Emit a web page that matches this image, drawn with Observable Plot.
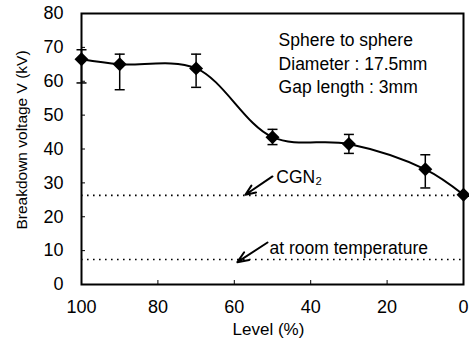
<!DOCTYPE html>
<html><head><meta charset="utf-8">
<script src="https://cdn.jsdelivr.net/npm/d3@7"></script>
<script src="https://cdn.jsdelivr.net/npm/@observablehq/plot@0.6"></script>
<style>body{margin:0;background:#fff}#chart svg{display:block}</style>
</head><body><div id="chart"></div>
<script>
// Data
const levels  = [100, 90, 70, 50, 30, 10, 0];
const voltage = [66.5, 65.0, 63.8, 43.5, 41.5, 34.0, 26.5];
const errHigh = [69.3, 68.0, 68.0, 45.8, 44.3, 38.3, null];
const errLow  = [59.5, 57.5, 58.2, 41.3, 38.7, 28.5, null];
const xTicks = [100, 80, 60, 40, 20, 0];
const yTicks = [0, 10, 20, 30, 40, 50, 60, 70, 80];
// Reference levels (horizontal dotted lines)
const refNames  = ["CGN₂", "at room temperature"];
const refValues = [26.3, 7.4];
// Annotation anchors (data units)
const arrowX1 = [50.0, 51.3], arrowY1 = [31.9, 12.4];
const arrowX2 = [57.1, 59.2], arrowY2 = [26.5, 6.6];
const labelX  = [49.0, 50.8], labelY  = [31.6, 10.8];
const noteLines = ["Sphere to sphere", "Diameter : 17.5mm", "Gap length : 3mm"];
const noteX = 48.4, noteY = 75.3;

const pts = levels.map((l, i) => ({level: l, v: voltage[i], hi: errHigh[i], lo: errLow[i]}));
const errs = pts.filter(d => d.hi != null);
const refs = refValues.map((v, i) => ({v, name: refNames[i]}));
const arrows = arrowX1.map((x, i) => ({x1: x, y1: arrowY1[i], x2: arrowX2[i], y2: arrowY2[i], label: refNames[i], lx: labelX[i], ly: labelY[i]}));

const cap = {draw(ctx, size) { const w = Math.sqrt(size / Math.PI); ctx.moveTo(-w, 0); ctx.lineTo(w, 0); }};

const chart = Plot.plot({
  width: 469, height: 357,
  marginLeft: 81, marginRight: 6, marginTop: 13, marginBottom: 73,
  style: {fontSize: "17px", fontFamily: "'Liberation Sans', Arial, sans-serif", color: "#000", background: "#fff"},
  x: {domain: [100, 0]},
  y: {domain: [0, 80]},
  marks: [
    Plot.ruleY(refs, {y: "v", stroke: "#000", strokeWidth: 1.6, strokeDasharray: "1.6,4.4"}),
    Plot.ruleX(errs, {x: "level", y1: "lo", y2: "hi", stroke: "#000", strokeWidth: 1.5}),
    Plot.dot(errs, {x: "level", y: "hi", symbol: cap, r: 5, stroke: "#000", strokeWidth: 1.5}),
    Plot.dot(errs, {x: "level", y: "lo", symbol: cap, r: 5, stroke: "#000", strokeWidth: 1.5}),
    Plot.line(pts, {x: "level", y: "v", curve: "catmull-rom", stroke: "#000", strokeWidth: 2}),
    Plot.dot(pts, {x: "level", y: "v", symbol: "diamond2", r: 6.3, fill: "#000", stroke: null}),
    Plot.arrow(arrows, {x1: "x1", y1: "y1", x2: "x2", y2: "y2", stroke: "#000", strokeWidth: 2, headLength: 9, headAngle: 45}),
    Plot.text(arrows, {x: "lx", y: "ly", text: "label", textAnchor: "start", lineAnchor: "middle", fill: "#000", fontSize: 17.5}),
    Plot.text([noteLines.join("\n")], {x: () => noteX, y: () => noteY, text: d => d, textAnchor: "start", lineAnchor: "top", lineHeight: 1.35, fill: "#000", fontSize: 17.5}),
    Plot.frame({stroke: "#000", strokeWidth: 2}),
    Plot.axisY({ticks: yTicks, tickSize: 0, tickPadding: 18, label: null, fontSize: 18}),
    Plot.axisY({ticks: yTicks, tickSize: 4, dx: 4, text: null, label: null}),
    Plot.axisX({ticks: xTicks, tickSize: 0, tickPadding: 16, label: null, fontSize: 18}),
    Plot.axisX({ticks: xTicks, tickSize: 4, dy: -4, text: null, label: null}),
    Plot.text(["Breakdown voltage V (kV)"], {frameAnchor: "left", rotate: -90, dx: -59, dy: -9, textAnchor: "middle", lineAnchor: "middle", fill: "#000", fontSize: 15.5}),
    Plot.text(["Level (%)"], {frameAnchor: "bottom", dx: -4, dy: 45, textAnchor: "middle", lineAnchor: "middle", fill: "#000"})
  ]
});
document.getElementById("chart").append(chart);
</script>
</body></html>
